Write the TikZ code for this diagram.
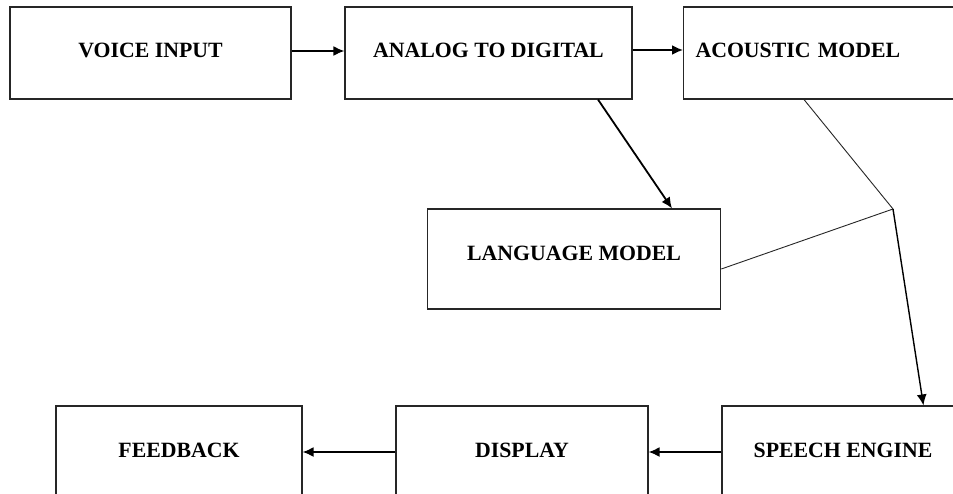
\documentclass[tikz,border=0pt]{standalone}
\usepackage{fontspec}
\setmainfont{Liberation Serif}
\usetikzlibrary{arrows.meta}
\begin{document}
\begin{tikzpicture}[x=1pt,y=-1pt,
  blockbox/.style={draw=black!85,line width=1.1pt,rectangle,inner sep=0pt,
    font=\fontsize{21.8}{24}\selectfont\bfseries,text height=14pt},
  flow/.style={draw=black,line width=1.8pt,-{Latex[length=11pt,width=10pt]}},
  thinlink/.style={draw=black!85,line width=0.9pt}]
\useasboundingbox (0,0) rectangle (953,493);
\clip (0,0) rectangle (953,493);
\fill[white] (0,0) rectangle (953,493);

% top row
\node[blockbox,minimum width=281pt,minimum height=92pt,text depth=6pt]
  (voice) at (150.5,53) {VOICE INPUT};
\node[blockbox,minimum width=287pt,minimum height=92pt,text depth=6pt]
  (analog) at (488.5,53) {ANALOG TO DIGITAL};
\node[blockbox,anchor=west,minimum height=92pt,text depth=6pt,
  text width=300pt,align=left,inner xsep=12pt]
  (acoustic) at (683,53) {ACOUSTIC MODEL};

% middle
\node[blockbox,minimum width=293.5pt,minimum height=100pt,text depth=12pt]
  (language) at (574,259) {LANGUAGE MODEL};

% bottom row
\node[blockbox,minimum width=246pt,minimum height=100pt,text depth=12pt]
  (feedback) at (179,456) {FEEDBACK};
\node[blockbox,minimum width=252pt,minimum height=100pt,text depth=12pt]
  (display) at (522,456) {DISPLAY};
\node[blockbox,minimum width=242pt,minimum height=100pt,text depth=12pt]
  (speech) at (843,456) {SPEECH ENGINE};

% junction of the two model outputs
\coordinate (j) at (893,209);

% connectors
\draw[flow] ([yshift=2pt]voice.east) -- ([yshift=2pt]analog.west);
\draw[flow] ([yshift=3pt]analog.east) -- ([yshift=3pt]acoustic.west);
\draw[flow] ([xshift=109.5pt]analog.south) -- ([xshift=98pt]language.north);
\draw[thinlink] ([xshift=121pt]acoustic.south west) -- (j);
\draw[thinlink] ([yshift=-10pt]language.east) -- (j);
\draw[flow,line width=1.4pt] (j) -- ([xshift=202pt]speech.north west);
\draw[flow] ([yshift=4pt]speech.west) -- ([yshift=4pt]display.east);
\draw[flow] ([yshift=4pt]display.west) -- ([yshift=4pt]feedback.east);
\end{tikzpicture}
\end{document}
